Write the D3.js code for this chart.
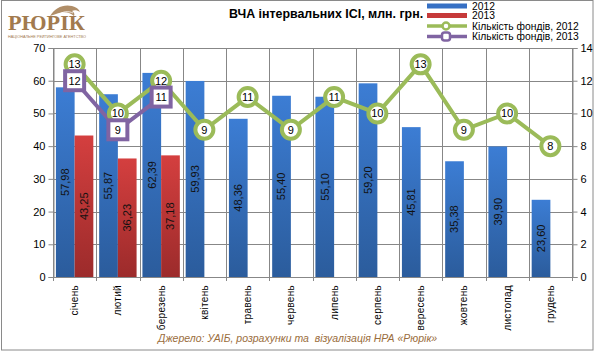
<!DOCTYPE html>
<html><head><meta charset="utf-8">
<script src="https://cdn.jsdelivr.net/npm/d3@7"></script>
<style>body{margin:0;background:#fff}svg{display:block}</style>
</head><body>
<svg id="c" width="595" height="360"></svg>
<script>
const months = ["січень","лютий","березень","квітень","травень","червень","липень","серпень","вересень","жовтень","листопад","грудень"];
const nav2012 = [57.98,55.87,62.39,59.93,48.36,55.40,55.10,59.20,45.81,35.38,39.90,23.60];
const nav2013 = [43.25,36.23,37.18];
const funds2012 = [13,10,12,9,11,9,11,10,13,9,10,8];
const funds2013 = [12,9,11];
const leftTicks = [0,10,20,30,40,50,60,70];
const rightTicks = [0,2,4,6,8,10,12,14];
const seriesNames = ["2012","2013","Кількість фондів, 2012","Кількість фондів, 2013"];
const title = "ВЧА інтервальних ІСІ, млн. грн.";
const source = "Джерело: УАІБ, розрахунки та  візуалізація НРА «Рюрік»";

const svg = d3.select("#c");
const FONT = "Liberation Sans, Arial, sans-serif";
const L = 53, R = 572, T = 48, B = 277;
const grid = "#878787";
const green = "#9bbb59", purple = "#8064a2";

// outer border
svg.append("rect").attr("x",1.5).attr("y",0.5).attr("width",591.5).attr("height",349.5)
  .attr("fill","none").attr("stroke","#8a8a8a").attr("stroke-width",1);

const defs = svg.append("defs");
const gb = defs.append("linearGradient").attr("id","gBlue").attr("x1",0).attr("y1",0).attr("x2",0).attr("y2",1);
gb.append("stop").attr("offset","0%").attr("stop-color","#3c7dd4");
gb.append("stop").attr("offset","100%").attr("stop-color","#2b5c9c");
const gr = defs.append("linearGradient").attr("id","gRed").attr("x1",0).attr("y1",0).attr("x2",0).attr("y2",1);
gr.append("stop").attr("offset","0%").attr("stop-color","#d43f3f");
gr.append("stop").attr("offset","100%").attr("stop-color","#9c2b2b");

const x = d3.scaleBand().domain(months).range([L,R]);
const xs = d3.scaleBand().domain(["2012","2013"]).range([0,x.bandwidth()]).paddingInner(0).paddingOuter(0.156);
const y = d3.scaleLinear().domain([0,70]).range([B,T]);
const y2 = d3.scaleLinear().domain([0,14]).range([B,T]);
const fmt = v => d3.format(".2f")(v).replace(".",",");

// gridlines
svg.append("g").selectAll("line").data(leftTicks).join("line")
  .attr("x1",L).attr("x2",R).attr("y1",d=>Math.round(y(d))+0.5).attr("y2",d=>Math.round(y(d))+0.5)
  .attr("stroke",grid).attr("stroke-width",1);
const bounds = months.map(m=>x(m)).concat([R]);
svg.append("g").selectAll("line").data(bounds).join("line")
  .attr("x1",d=>Math.round(d)+0.5).attr("x2",d=>Math.round(d)+0.5).attr("y1",T).attr("y2",B+4)
  .attr("stroke",grid).attr("stroke-width",1);

// left axis
const ax = svg.append("g").attr("transform",`translate(${L+0.5},0)`)
  .call(d3.axisLeft(y).tickValues(leftTicks).tickSize(5).tickPadding(3).tickFormat(d3.format("d")));
ax.select(".domain").attr("stroke",grid);
ax.selectAll(".tick line").attr("stroke",grid);
ax.selectAll("text").attr("font-family",FONT).attr("font-size",11).attr("fill","#000");
// right axis
const ar = svg.append("g").attr("transform",`translate(${R+0.5},0)`)
  .call(d3.axisRight(y2).tickValues(rightTicks).tickSize(5).tickPadding(3).tickFormat(d3.format("d")));
ar.select(".domain").attr("stroke",grid);
ar.selectAll(".tick line").attr("stroke",grid);
ar.selectAll("text").attr("font-family",FONT).attr("font-size",11).attr("fill","#000");

// bars
const bars = svg.append("g");
bars.selectAll("rect.b12").data(nav2012).join("rect")
  .attr("x",(d,i)=>x(months[i])+xs("2012")).attr("width",xs.bandwidth())
  .attr("y",d=>y(d)).attr("height",d=>B-y(d)).attr("fill","url(#gBlue)");
bars.selectAll("rect.b13").data(nav2013).join("rect")
  .attr("x",(d,i)=>x(months[i])+xs("2013")).attr("width",xs.bandwidth())
  .attr("y",d=>y(d)).attr("height",d=>B-y(d)).attr("fill","url(#gRed)");

// bar labels
function barLabels(data, key){
  svg.append("g").selectAll("text").data(data).join("text")
    .attr("transform",(d,i)=>`translate(${x(months[i])+xs(key)+xs.bandwidth()/2},${(y(d)+B)/2}) rotate(-90)`)
    .attr("text-anchor","middle").attr("dy","0.35em")
    .attr("font-family",FONT).attr("font-size",11).attr("fill","#111")
    .text(d=>fmt(d));
}
barLabels(nav2012,"2012");
barLabels(nav2013,"2013");

// x labels
svg.append("g").selectAll("text").data(months).join("text")
  .attr("transform",d=>`translate(${x(d)+x.bandwidth()/2},285) rotate(-90)`)
  .attr("text-anchor","end").attr("dy","0.35em")
  .attr("font-family",FONT).attr("font-size",10).attr("letter-spacing",0.3).attr("fill","#000")
  .text(d=>d);

// lines
const cx = (d,i)=>x(months[i])+x.bandwidth()/2;
const line = d3.line().x(cx).y(d=>y2(d));
svg.append("path").datum(funds2012).attr("d",line).attr("fill","none").attr("stroke",green).attr("stroke-width",4);
svg.append("path").datum(funds2013).attr("d",line).attr("fill","none").attr("stroke",purple).attr("stroke-width",4);

const g12 = svg.append("g");
g12.selectAll("circle").data(funds2012).join("circle")
  .attr("cx",cx).attr("cy",d=>y2(d)).attr("r",9)
  .attr("fill","#fff").attr("stroke",green).attr("stroke-width",4);
g12.selectAll("text").data(funds2012).join("text")
  .attr("x",cx).attr("y",d=>y2(d)).attr("dy","0.36em").attr("text-anchor","middle")
  .attr("font-family",FONT).attr("font-size",11).attr("fill","#000").text(d=>d);

const g13 = svg.append("g");
g13.selectAll("rect").data(funds2013).join("rect")
  .attr("x",(d,i)=>cx(d,i)-9.5).attr("y",d=>y2(d)-9.5).attr("width",19).attr("height",19)
  .attr("fill","#fff").attr("stroke",purple).attr("stroke-width",4);
g13.selectAll("text").data(funds2013).join("text")
  .attr("x",cx).attr("y",d=>y2(d)).attr("dy","0.36em").attr("text-anchor","middle")
  .attr("font-family",FONT).attr("font-size",11).attr("fill","#000").text(d=>d);

// legend
const lg = svg.append("g");
const rowsY = [6,15.5,26,36.5];
lg.append("rect").attr("x",427).attr("y",rowsY[0]-2.5).attr("width",40).attr("height",5).attr("fill","#3670c4");
lg.append("rect").attr("x",427).attr("y",rowsY[1]-2.5).attr("width",40).attr("height",5).attr("fill","#c63a3a");
lg.append("line").attr("x1",427).attr("x2",467).attr("y1",rowsY[2]).attr("y2",rowsY[2]).attr("stroke",green).attr("stroke-width",3.5);
lg.append("circle").attr("cx",446).attr("cy",rowsY[2]).attr("r",3.5).attr("fill","#fff").attr("stroke",green).attr("stroke-width",2.5);
lg.append("line").attr("x1",427).attr("x2",467).attr("y1",rowsY[3]).attr("y2",rowsY[3]).attr("stroke",purple).attr("stroke-width",3.5);
lg.append("rect").attr("x",442).attr("y",rowsY[3]-4).attr("width",8).attr("height",8).attr("rx",2.5)
  .attr("fill","#fff").attr("stroke",purple).attr("stroke-width",2.5);
lg.selectAll("text").data(seriesNames).join("text")
  .attr("x",472).attr("y",(d,i)=>rowsY[i]).attr("dy","0.35em")
  .attr("font-family",FONT).attr("font-size",10.3).attr("fill","#000").text(d=>d);

// title (drawn after legend so it stays on top)
svg.append("text").attr("x",229).attr("y",18).attr("font-family",FONT).attr("font-weight","bold")
  .attr("font-size",12.4).attr("fill","#000").text(title);

// source
svg.append("text").attr("x",158).attr("y",342).attr("font-family",FONT).attr("font-style","italic")
  .attr("font-size",10.5).attr("fill","#9a6d3c").style("white-space","pre").text(source);

// logo
const logo = svg.append("g");
const brown = "#a27a4e";
logo.append("text").attr("x",8).attr("y",30).attr("font-family","Liberation Serif, DejaVu Serif, serif")
  .attr("font-weight","bold").attr("font-size",20).attr("textLength",77).attr("lengthAdjust","spacingAndGlyphs")
  .attr("fill",brown).text("РЮРІК");
logo.append("text").attr("x",8).attr("y",37.5).attr("font-family",FONT)
  .attr("font-size",3.6).attr("textLength",78).attr("lengthAdjust","spacingAndGlyphs")
  .attr("fill",brown).text("НАЦІОНАЛЬНЕ РЕЙТИНГОВЕ АГЕНТСТВО");
logo.append("path").attr("d","M50,16 C55,8 63,4 72,6 C76,7 79,9 80,12 C77,10 74,10 72,11 C74,12 75,14 74,16 C70,12 63,11 56,14 Z")
  .attr("fill",brown).attr("opacity",0.85);
logo.append("path").attr("d","M58,15 C63,11 69,11 73,13").attr("fill","none").attr("stroke","#fff").attr("stroke-width",0.8);
</script>
</body></html>
